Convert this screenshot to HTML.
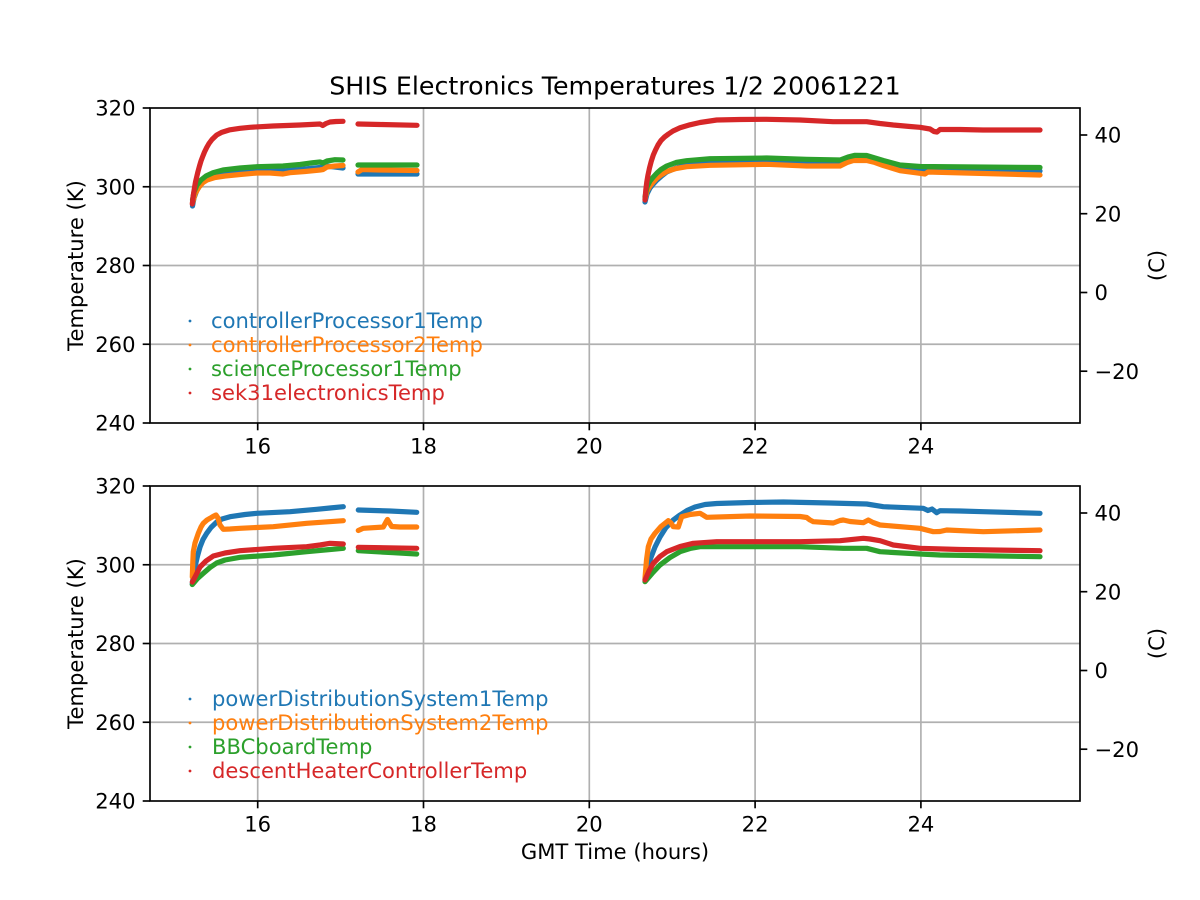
<!DOCTYPE html>
<html><head><meta charset="utf-8"><style>
html,body{margin:0;padding:0;background:#fff;}
svg{display:block;}
text{font-family:"DejaVu Sans","Liberation Sans",sans-serif;fill:#000;}
.d{fill:none;stroke-width:5.2;stroke-linecap:round;stroke-linejoin:round;}
.g{stroke:#b0b0b0;stroke-width:1.67;}
.k{stroke:#000;stroke-width:1.67;}
.t{font-size:21.1px;}
</style></head><body>
<svg width="1200" height="900" viewBox="0 0 1200 900" xmlns="http://www.w3.org/2000/svg">
<rect width="1200" height="900" fill="#fff"/>
<text x="615" y="94.5" text-anchor="middle" style="font-size:25.3px">SHIS Electronics Temperatures 1/2 20061221</text>

<!-- ===== TOP AXES ===== -->
<g>
<line class="g" x1="257.7" y1="108" x2="257.7" y2="423"/>
<line class="g" x1="423.5" y1="108" x2="423.5" y2="423"/>
<line class="g" x1="589.3" y1="108" x2="589.3" y2="423"/>
<line class="g" x1="755.1" y1="108" x2="755.1" y2="423"/>
<line class="g" x1="920.9" y1="108" x2="920.9" y2="423"/>
<line class="g" x1="150" y1="186.75" x2="1080" y2="186.75"/>
<line class="g" x1="150" y1="265.5" x2="1080" y2="265.5"/>
<line class="g" x1="150" y1="344.25" x2="1080" y2="344.25"/>

<!-- blue -->
<polyline class="d" stroke="#1f77b4" points="192.5,206 194,198 197,190 201,184 206,180 214,176 225,174 240,172.5 257,171.5 283,171 300,169.5 320,167.5 326,166 335,167 343,168"/>
<polyline class="d" stroke="#1f77b4" points="358,174 380,174 417,174"/>
<polyline class="d" stroke="#1f77b4" points="645,202 647,194 650,188 653.3,184 657,180 661,176.5 666.7,172 676,168 686.7,165 710,162 766.7,161.5 806.7,163 840,162.5 848,159 856,157.5 866.7,158 883.3,162.5 900,168.3 920,170 1040,171"/>
<!-- orange -->
<polyline class="d" stroke="#ff7f0e" points="192.5,203 195,194 199,187 203,182.5 207,180 215,177.5 225,176 240,174.5 257,173 270,173 283,174 290,172.7 305,171.5 320,170 323,169.5 327,167 335,166 343,165.5"/>
<polyline class="d" stroke="#ff7f0e" points="358,172 362,169.5 380,170 417,170.5"/>
<polyline class="d" stroke="#ff7f0e" points="645,199 647,191 650,186 653.3,182 657,178 661,175 666.7,171.5 676,168.5 686.7,166.7 710,165.3 766.7,164.3 806.7,166 840,166 847,162.5 853.3,160.5 866.7,160.5 875,162.5 883.3,165.5 900,170.7 920,173.3 925,174 928,172 1040,175"/>
<!-- green -->
<polyline class="d" stroke="#2ca02c" points="192.5,200 194,192 197,185 201,180 206,176 213,172.8 223,170 240,168 257,166.7 283,166 300,164.5 313,162.7 320,162 323,163 327,161 335,159.7 343,160"/>
<polyline class="d" stroke="#2ca02c" points="358,165 417,165"/>
<polyline class="d" stroke="#2ca02c" points="645,197 647,187 650,181 653.3,177 657,173 661,169.5 666.7,166 676,162.5 686.7,160.7 710,158.7 766.7,158 806.7,159.3 840,160 848,157 855,155.3 866.7,155.5 875,158 883.3,160.5 900,165 920,166.5 1040,167.5"/>
<!-- red -->
<polyline class="d" stroke="#d62728" points="192.3,204 193.2,196 194.3,189 195.5,182 196.7,177 198,171.5 199.5,166 201,161 202.5,157 204.5,152 206.7,147.5 209,143.5 212,139.5 216.7,135 222,132.2 230,129.8 240,128.3 250,127.3 273,126 300,125 320,124 322.7,125.5 326,123.5 330,122 336,121.5 343,121.3"/>
<polyline class="d" stroke="#d62728" points="358,124 380,124.5 417,125.3"/>
<polyline class="d" stroke="#d62728" points="645,200 645.8,190 646.8,182 648,175 649.5,168 651.2,161.5 653.3,155 655.5,150 658,145 661,140.5 664.5,137 668.5,134 673,131 680,127.8 690,124.8 700,122.5 716.7,120 740,119.5 766.7,119.3 800,120 833,121.7 866.7,121.7 880,123.5 893.3,125 910,126.5 920,127.3 930,129 934,131.5 937,132 940,129.5 960,129.5 983,130 1040,130"/>

<!-- spines -->
<rect x="150" y="108" width="930" height="315" fill="none" class="k"/>
<g class="k">
<line x1="142.7" y1="108" x2="150" y2="108"/>
<line x1="142.7" y1="186.75" x2="150" y2="186.75"/>
<line x1="142.7" y1="265.5" x2="150" y2="265.5"/>
<line x1="142.7" y1="344.25" x2="150" y2="344.25"/>
<line x1="142.7" y1="423" x2="150" y2="423"/>
<line x1="257.7" y1="423" x2="257.7" y2="430.3"/>
<line x1="423.5" y1="423" x2="423.5" y2="430.3"/>
<line x1="589.3" y1="423" x2="589.3" y2="430.3"/>
<line x1="755.1" y1="423" x2="755.1" y2="430.3"/>
<line x1="920.9" y1="423" x2="920.9" y2="430.3"/>
<line x1="1080" y1="135" x2="1087.3" y2="135"/>
<line x1="1080" y1="213.7" x2="1087.3" y2="213.7"/>
<line x1="1080" y1="292.5" x2="1087.3" y2="292.5"/>
<line x1="1080" y1="371.2" x2="1087.3" y2="371.2"/>
</g>
<g class="t" text-anchor="end">
<text x="135.5" y="115.6">320</text>
<text x="135.5" y="194.4">300</text>
<text x="135.5" y="273.1">280</text>
<text x="135.5" y="351.9">260</text>
<text x="135.5" y="430.6">240</text>
</g>
<g class="t" text-anchor="middle">
<text x="257.7" y="453.4">16</text>
<text x="423.5" y="453.4">18</text>
<text x="589.3" y="453.4">20</text>
<text x="755.1" y="453.4">22</text>
<text x="920.9" y="453.4">24</text>
</g>
<g class="t">
<text x="1094.5" y="142.6">40</text>
<text x="1094.5" y="221.3">20</text>
<text x="1094.5" y="300.1">0</text>
<text x="1094.5" y="378.8">−20</text>
</g>
<text class="t" x="83" y="265.5" text-anchor="middle" transform="rotate(-90 83 265.5)">Temperature (K)</text>
<text class="t" x="1164" y="265.5" text-anchor="middle" transform="rotate(-90 1164 265.5)">(C)</text>

<!-- legend -->
<circle cx="190" cy="321" r="1.4" fill="#1f77b4"/>
<circle cx="190" cy="345" r="1.4" fill="#ff7f0e"/>
<circle cx="190" cy="369" r="1.4" fill="#2ca02c"/>
<circle cx="190" cy="393" r="1.4" fill="#d62728"/>
<text class="t" x="211" y="328" style="fill:#1f77b4">controllerProcessor1Temp</text>
<text class="t" x="211" y="352" style="fill:#ff7f0e">controllerProcessor2Temp</text>
<text class="t" x="211" y="376" style="fill:#2ca02c">scienceProcessor1Temp</text>
<text class="t" x="211" y="400" style="fill:#d62728">sek31electronicsTemp</text>
</g>

<!-- ===== BOTTOM AXES ===== -->
<g>
<line class="g" x1="257.7" y1="486" x2="257.7" y2="801"/>
<line class="g" x1="423.5" y1="486" x2="423.5" y2="801"/>
<line class="g" x1="589.3" y1="486" x2="589.3" y2="801"/>
<line class="g" x1="755.1" y1="486" x2="755.1" y2="801"/>
<line class="g" x1="920.9" y1="486" x2="920.9" y2="801"/>
<line class="g" x1="150" y1="564.75" x2="1080" y2="564.75"/>
<line class="g" x1="150" y1="643.5" x2="1080" y2="643.5"/>
<line class="g" x1="150" y1="722.25" x2="1080" y2="722.25"/>

<!-- blue -->
<polyline class="d" stroke="#1f77b4" points="192.3,584 193.5,575 195,566.7 197.5,556 200,547 203,539.5 206.7,533.3 211,527.5 216.7,522 222,519 230,516.7 245,514.5 256.7,513.3 290,511.7 316.7,509.3 330,508 343.3,506.7"/>
<polyline class="d" stroke="#1f77b4" points="358.3,510 390,511 416.7,512.3"/>
<polyline class="d" stroke="#1f77b4" points="645,580 647,570 650,560 655,547 660,537 666,527.5 673.3,520 680,515 687,510.5 695,507 705,504.5 716.7,503.5 750,502.5 783.3,502 830,503 866.7,504 883.3,506.7 923.3,508.3 928,510.5 932,509 936.7,512.7 940,510.7 960,511 983.3,511.7 1040,513.3"/>
<!-- orange -->
<polyline class="d" stroke="#ff7f0e" points="192.3,577 192.8,562 193.3,551.7 195,543 198.3,533.3 201,527 203.3,523.3 207,520 210,518.3 213,516.5 216,515 218,518 220,525 223.3,529.3 230,529 240,528.3 273.3,526.7 306.7,523.3 343.3,520.7"/>
<polyline class="d" stroke="#ff7f0e" points="358.3,530.5 363.3,528.3 383.3,527 386,522 387.5,519.5 389.5,523 391.7,526.5 400,527 416.7,527"/>
<polyline class="d" stroke="#ff7f0e" points="645,578.3 646.5,560 648.3,546.7 651,539 655,533.3 661,526.5 668.3,520.7 671,523 673.3,526.7 678.3,527 681.7,516.7 690,514.5 700,513.3 703,515 706.7,517.3 750,516 800,516.5 806.7,517.5 810,520 813.3,521.7 833.3,523 840,520.5 843.3,520 850,521.5 863.3,522.7 868.3,520 873,522.5 880,525 920,528.3 933.3,531.7 940,531.5 946.7,530 983.3,531.7 1040,530"/>
<!-- green -->
<polyline class="d" stroke="#2ca02c" points="192.3,584.5 197,579 203.3,573.3 210,567.5 216.7,563 225,560 240,557.3 273.3,555 306.7,551.7 330,549.5 343.3,548.3"/>
<polyline class="d" stroke="#2ca02c" points="358.3,550.7 393.3,552.7 416.7,554"/>
<polyline class="d" stroke="#2ca02c" points="645,581.7 652,573.5 660,565 670,557.5 680,551.7 690,548.5 700,546.7 800,546.7 843.3,548.3 866.7,548.3 880,551.7 920,554 940,555 1040,556.7"/>
<!-- red -->
<polyline class="d" stroke="#d62728" points="192.3,582 195,577 200,567 206,561 213.3,556 225,553 240,550.7 273.3,548.3 306.7,546.7 320,545 330,543.3 343.3,544"/>
<polyline class="d" stroke="#d62728" points="358.3,547.3 416.7,548.3"/>
<polyline class="d" stroke="#d62728" points="645,580 649,571 653.3,563.3 660,556.5 666.7,551.7 680,546.5 693.3,543.3 716.7,541.7 800,541.7 840,540.7 863.3,538.3 870,539 880,540.7 893.3,545 920,548.3 960,549.5 1040,550.7"/>

<rect x="150" y="486" width="930" height="315" fill="none" class="k"/>
<g class="k">
<line x1="142.7" y1="486" x2="150" y2="486"/>
<line x1="142.7" y1="564.75" x2="150" y2="564.75"/>
<line x1="142.7" y1="643.5" x2="150" y2="643.5"/>
<line x1="142.7" y1="722.25" x2="150" y2="722.25"/>
<line x1="142.7" y1="801" x2="150" y2="801"/>
<line x1="257.7" y1="801" x2="257.7" y2="808.3"/>
<line x1="423.5" y1="801" x2="423.5" y2="808.3"/>
<line x1="589.3" y1="801" x2="589.3" y2="808.3"/>
<line x1="755.1" y1="801" x2="755.1" y2="808.3"/>
<line x1="920.9" y1="801" x2="920.9" y2="808.3"/>
<line x1="1080" y1="513" x2="1087.3" y2="513"/>
<line x1="1080" y1="591.7" x2="1087.3" y2="591.7"/>
<line x1="1080" y1="670.5" x2="1087.3" y2="670.5"/>
<line x1="1080" y1="749.2" x2="1087.3" y2="749.2"/>
</g>
<g class="t" text-anchor="end">
<text x="135.5" y="493.6">320</text>
<text x="135.5" y="572.4">300</text>
<text x="135.5" y="651.1">280</text>
<text x="135.5" y="729.9">260</text>
<text x="135.5" y="808.6">240</text>
</g>
<g class="t" text-anchor="middle">
<text x="257.7" y="831.4">16</text>
<text x="423.5" y="831.4">18</text>
<text x="589.3" y="831.4">20</text>
<text x="755.1" y="831.4">22</text>
<text x="920.9" y="831.4">24</text>
</g>
<g class="t">
<text x="1094.5" y="520.6">40</text>
<text x="1094.5" y="599.3">20</text>
<text x="1094.5" y="678.1">0</text>
<text x="1094.5" y="756.8">−20</text>
</g>
<text class="t" x="83" y="643.5" text-anchor="middle" transform="rotate(-90 83 643.5)">Temperature (K)</text>
<text class="t" x="1164" y="643.5" text-anchor="middle" transform="rotate(-90 1164 643.5)">(C)</text>
<text class="t" x="615" y="859" text-anchor="middle">GMT Time (hours)</text>

<circle cx="190" cy="699" r="1.4" fill="#1f77b4"/>
<circle cx="190" cy="723" r="1.4" fill="#ff7f0e"/>
<circle cx="190" cy="747" r="1.4" fill="#2ca02c"/>
<circle cx="190" cy="771" r="1.4" fill="#d62728"/>
<text class="t" x="212" y="706" style="fill:#1f77b4">powerDistributionSystem1Temp</text>
<text class="t" x="212" y="730" style="fill:#ff7f0e">powerDistributionSystem2Temp</text>
<text class="t" x="212" y="754" style="fill:#2ca02c">BBCboardTemp</text>
<text class="t" x="212" y="778" style="fill:#d62728">descentHeaterControllerTemp</text>
</g>
</svg>
</body></html>
